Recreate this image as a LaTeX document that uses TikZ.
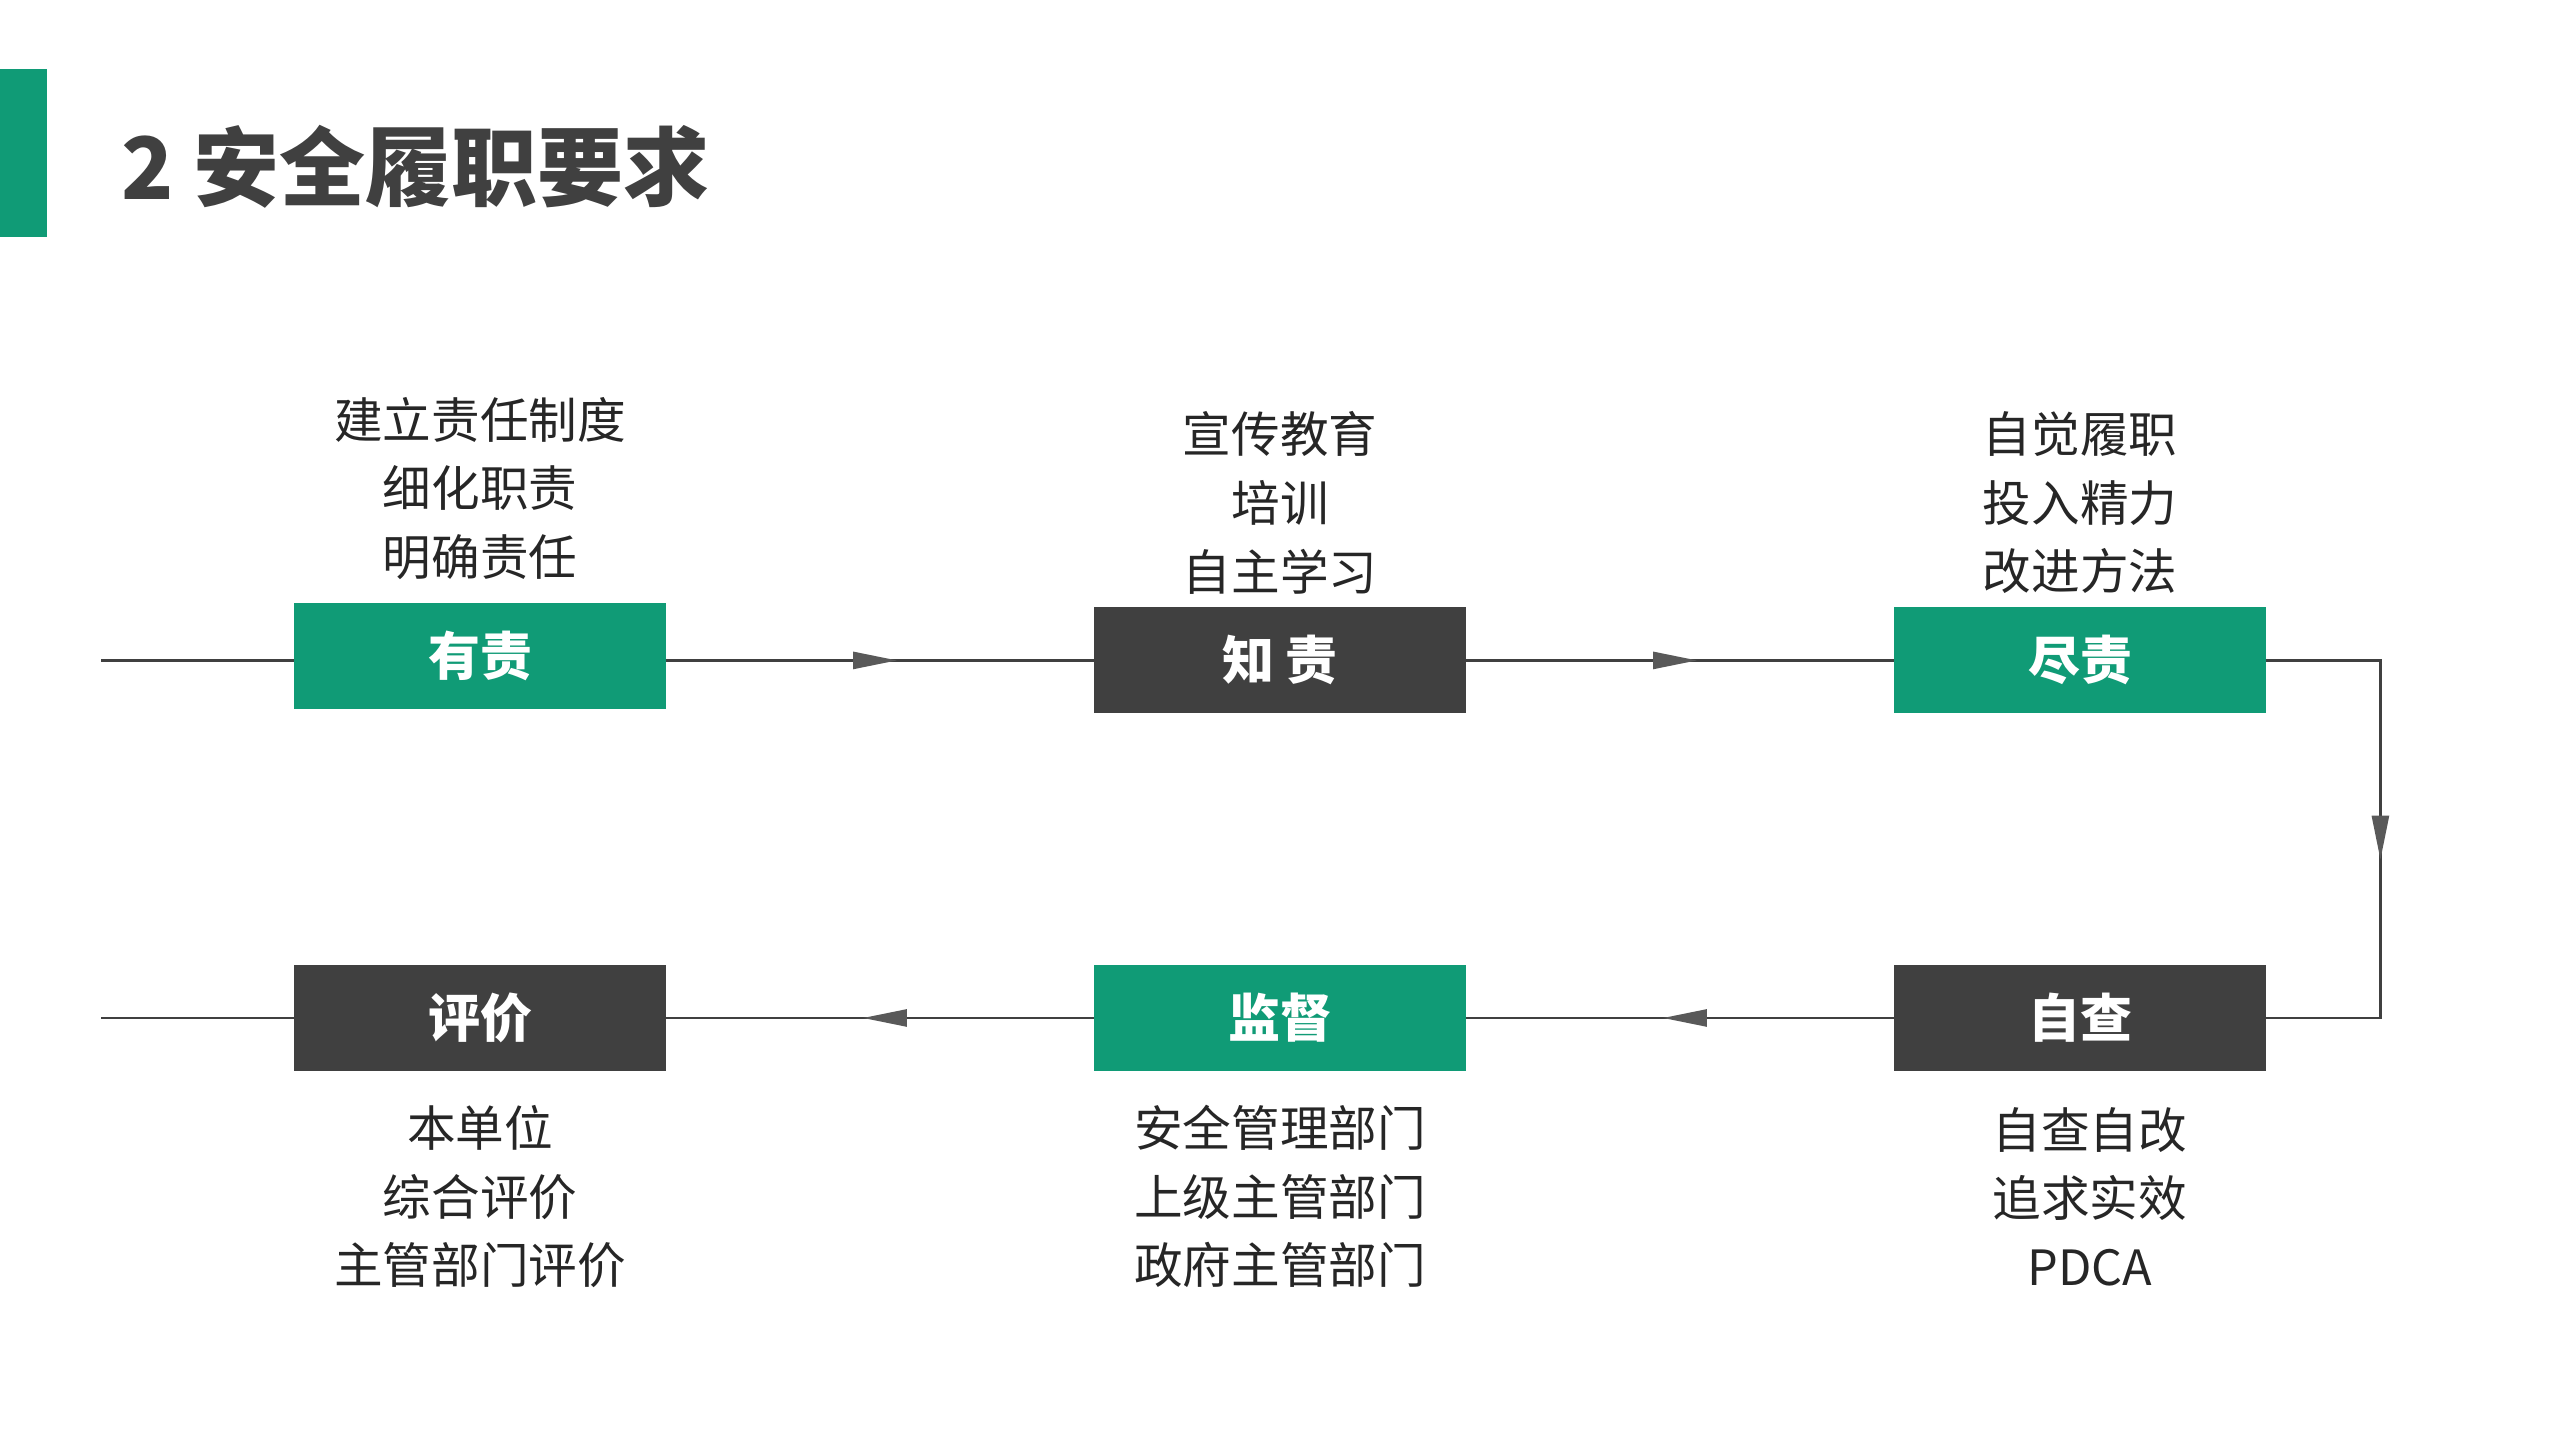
\documentclass[tikz,border=0pt]{standalone}
\usepackage{fontspec}
\setmainfont{Noto Sans CJK SC}
\usepackage{xcolor}
\usetikzlibrary{positioning,arrows.meta,decorations.markings}
\definecolor{duty green}{HTML}{109B76}
\definecolor{duty gray}{HTML}{404040}
\definecolor{note gray}{HTML}{262626}
\definecolor{tip gray}{HTML}{595959}
\tikzset{
  green box/.style={
    fill=duty green,
    minimum width=186pt,
    minimum height=53pt,
    inner sep=0pt,
    text=white,
    font=\fontsize{26}{30}\selectfont\bfseries,
  },
  dark box/.style={
    green box,
    fill=duty gray,
  },
  notes/.style={
    align=center,
    inner sep=0pt,
    text=note gray,
    font=\fontsize{24.3}{34.3}\selectfont,
  },
  flow/.style={
    draw=duty gray,
    line width=1.3pt,
  },
  mid arrow/.style={
    postaction={decorate},
    decoration={markings,
      mark=at position #1 with {\arrow{Triangle[length=22pt,width=8.5pt,color=tip gray]}}},
  }
}

\begin{document}
\begin{tikzpicture}[x=0.8163pt, y=-0.8163pt]
    \useasboundingbox (0,0) rectangle (1568,882);
    \fill [duty green] (0,42) rectangle (29,145);
    \node [anchor=west, inner sep=0pt, text=duty gray, font=\fontsize{43}{50}\selectfont\bfseries] (title) at (74,102) {2 安全履职要求};

    \node [green box] (yz) at (294,401.5) {有责};
    \node [dark box] (zz) at (784,404.5) {知 责};
    \node [green box] (jz) at (1274,404.5) {尽责};
    \node [dark box] (zc) at (1274,623.5) {自查};
    \node [green box] (jd) at (784,623.5) {监督};
    \node [dark box] (pj) at (294,623.5) {评价};

    \node [notes] (yz notes) at (294,299) {建立责任制度\\细化职责\\明确责任};
    \node [notes] (zz notes) at (784,308) {宣传教育\\培训\\自主学习};
    \node [notes] (jz notes) at (1274,308) {自觉履职\\投入精力\\改进方法};
    \node [notes] (zc notes) at (1280,733) {自查自改\\追求实效\\PDCA};
    \node [notes] (jd notes) at (784,733) {安全管理部门\\上级主管部门\\政府主管部门};
    \node [notes] (pj notes) at (294,733) {本单位\\综合评价\\主管部门评价};

    \coordinate (in top) at (62,404.5);
    \coordinate (out bottom) at (62,623.5);
    \coordinate (turn top) at (1458,404.5);
    \coordinate (turn bottom) at (1458,623.5);

    \draw [flow] (in top) -- (yz.west |- in top);
    \draw [flow, mid arrow=0.54] (yz.east |- zz.west) -- (zz.west);
    \draw [flow, mid arrow=0.54] (zz.east) -- (jz.west);
    \draw [flow, mid arrow=0.535] (jz.east) -- (turn top) -- (turn bottom) -- (zc.east);
    \draw [flow, mid arrow=0.54] (zc.west) -- (jd.east);
    \draw [flow, mid arrow=0.54] (jd.west) -- (pj.east);
    \draw [flow] (pj.west) -- (out bottom);
\end{tikzpicture}
\end{document}
